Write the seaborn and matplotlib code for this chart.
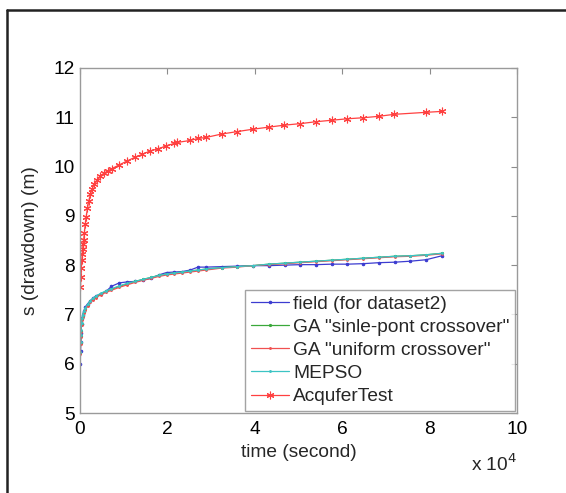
import numpy as np
import pandas as pd
import matplotlib
matplotlib.use("Agg")
import matplotlib.pyplot as plt
from matplotlib.lines import Line2D
from matplotlib.ticker import FuncFormatter
import seaborn as sns

# --- data (time in 10^4 seconds, drawdown in m) ---
t_scale = 1e4
t_model = [0.006, 0.012, 0.018, 0.024, 0.036, 0.048, 0.06, 0.084, 0.12, 0.18,
           0.24, 0.30, 0.36, 0.48, 0.60, 0.72, 0.90, 1.08, 1.26, 1.44,
           1.62, 1.80, 1.98, 2.16, 2.34, 2.52, 2.70, 2.88, 3.24, 3.60,
           3.96, 4.32, 4.68, 5.04, 5.40, 5.76, 6.12, 6.48, 6.84, 7.20,
           7.56, 7.92, 8.28]

field = [5.99, 6.25, 6.45, 6.62, 6.80, 6.92, 6.98, 7.06, 7.15, 7.22,
         7.28, 7.33, 7.37, 7.42, 7.47, 7.57, 7.64, 7.66, 7.67, 7.70,
         7.73, 7.80, 7.85, 7.86, 7.87, 7.90, 7.96, 7.96, 7.97, 7.98,
         7.99, 7.99, 8.00, 8.01, 8.01, 8.02, 8.02, 8.03, 8.05, 8.06,
         8.08, 8.11, 8.19]

ga_single = [6.22, 6.42, 6.56, 6.67, 6.81, 6.90, 6.96, 7.04, 7.11, 7.20,
             7.27, 7.32, 7.36, 7.42, 7.47, 7.51, 7.57, 7.62, 7.67, 7.71,
             7.75, 7.79, 7.82, 7.84, 7.86, 7.88, 7.90, 7.92, 7.95, 7.97,
             7.99, 8.02, 8.04, 8.06, 8.08, 8.10, 8.12, 8.14, 8.16, 8.18,
             8.19, 8.21, 8.24]

ga_uniform = [6.20, 6.40, 6.54, 6.65, 6.79, 6.88, 6.94, 7.02, 7.09, 7.18,
              7.25, 7.30, 7.34, 7.40, 7.45, 7.49, 7.55, 7.60, 7.65, 7.69,
              7.73, 7.77, 7.80, 7.82, 7.84, 7.86, 7.88, 7.90, 7.94, 7.96,
              7.99, 8.01, 8.03, 8.05, 8.07, 8.09, 8.11, 8.13, 8.15, 8.17,
              8.18, 8.20, 8.23]

mepso = [6.24, 6.44, 6.58, 6.69, 6.83, 6.92, 6.98, 7.06, 7.13, 7.21,
         7.28, 7.33, 7.37, 7.43, 7.48, 7.52, 7.58, 7.63, 7.67, 7.71,
         7.75, 7.79, 7.82, 7.84, 7.86, 7.88, 7.90, 7.92, 7.95, 7.97,
         7.99, 8.02, 8.04, 8.06, 8.08, 8.10, 8.12, 8.14, 8.16, 8.18,
         8.19, 8.21, 8.24]

t_aqt = [0.01, 0.02, 0.03, 0.04, 0.05, 0.06, 0.07, 0.085, 0.10, 0.12,
         0.14, 0.17, 0.20, 0.24, 0.28, 0.33, 0.39, 0.46, 0.54, 0.63,
         0.73, 0.89, 1.07, 1.26, 1.43, 1.61, 1.79, 1.97, 2.16, 2.23,
         2.52, 2.70, 2.88, 3.24, 3.60, 3.97, 4.32, 4.67, 5.03, 5.40,
         5.76, 6.12, 6.47, 6.84, 7.19, 7.91, 8.29]
aquifer_test = [7.55, 7.75, 7.95, 8.10, 8.22, 8.32, 8.42, 8.52, 8.66, 8.83,
                8.97, 9.15, 9.30, 9.44, 9.55, 9.65, 9.73, 9.80, 9.86, 9.91,
                9.96, 10.03, 10.11, 10.19, 10.25, 10.32, 10.36, 10.42, 10.47, 10.49,
                10.53, 10.57, 10.59, 10.66, 10.71, 10.76, 10.80, 10.84, 10.87, 10.91,
                10.94, 10.97, 10.99, 11.02, 11.06, 11.10, 11.12]

labels = ['field (for dataset2)', 'GA "sinle-pont crossover"',
          'GA "uniform crossover"', 'MEPSO', 'AcquferTest']

sns.set_style("white")
plt.rcParams['font.family'] = ['Liberation Sans', 'DejaVu Sans']
fs = 13.8

fig = plt.figure(figsize=(5.66, 4.93), dpi=100)
ax = fig.add_axes([80 / 566, 1 - 413 / 493, 437 / 566, 345 / 493])

t_m = np.array(t_model) * t_scale
t_a = np.array(t_aqt) * t_scale

series = [
    (t_m, field, labels[0], '#3c3cd0', '.', 3.5),
    (t_m, ga_single, labels[1], '#3aa83a', '.', 3.0),
    (t_m, ga_uniform, labels[2], '#f05050', '.', 2.5),
    (t_m, mepso, labels[3], '#3cc4c4', '.', 2.5),
    (t_a, aquifer_test, labels[4], '#ff4040', (6, 2, 0), 5.5),
]
for x, y, lab, col, mk, ms in series:
    sns.lineplot(x=x, y=y, ax=ax, color=col, marker=mk, markersize=ms,
                 markeredgewidth=0.8, markeredgecolor=col, linewidth=0.9,
                 estimator=None, sort=False, label=lab)

ax.set_xlim(0, 10e4)
ax.set_ylim(5, 12)
ax.set_xticks(np.arange(0, 10.01e4, 2e4))
ax.set_yticks(np.arange(5, 12.1, 1))
ax.xaxis.set_major_formatter(FuncFormatter(lambda v, p: f"{v / t_scale:g}"))
ax.tick_params(direction='in', length=4, width=0.8, color='#8c8c8c',
               top=True, right=True, labelsize=fs, pad=4, labelcolor='black')
ax.tick_params(axis='x', pad=6)
for s in ax.spines.values():
    s.set_color('#9a9a9a')
    s.set_linewidth(1.0)

ax.set_xlabel('time (second)', fontsize=fs, labelpad=4)
ax.set_ylabel('s (drawdown) (m)', fontsize=fs, labelpad=10)
ax.text(1.0, -0.118, r'x 10$^4$', transform=ax.transAxes, ha='right',
        va='top', fontsize=fs)

leg = ax.legend(loc='lower right', fontsize=fs, frameon=True, fancybox=False,
                edgecolor='#8c8c8c', borderaxespad=0.1, handlelength=2.0,
                handletextpad=0.2, labelspacing=0.3, borderpad=0.3)
leg.get_frame().set_linewidth(1.0)

# outer black frame of the original figure (top and left edges visible)
fig.add_artist(Line2D([7 / 566, 7 / 566], [0, 1 - 9.5 / 493], color='#222222',
                      lw=1.8, transform=fig.transFigure))
fig.add_artist(Line2D([7 / 566, 1], [1 - 9.5 / 493, 1 - 9.5 / 493], color='#222222',
                      lw=1.8, transform=fig.transFigure))

fig.savefig('out.png', dpi=100)
